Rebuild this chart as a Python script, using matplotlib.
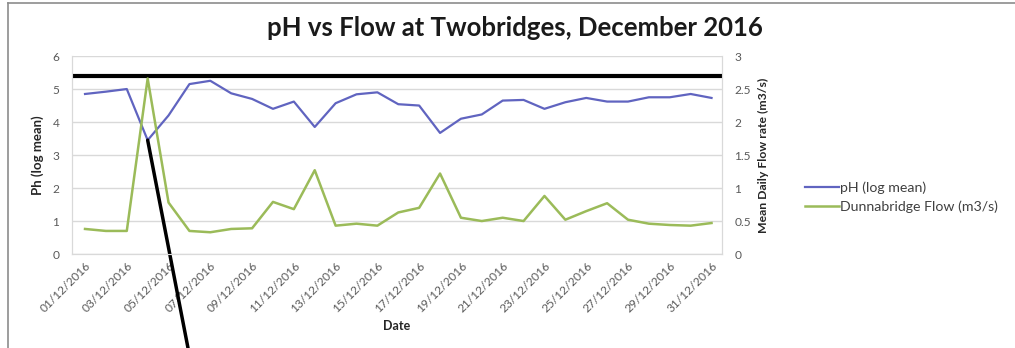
import numpy as np
import matplotlib
matplotlib.use("Agg")
import matplotlib.pyplot as plt
import matplotlib.dates as mdates
from matplotlib.lines import Line2D
import pandas as pd

plt.rcParams['font.family'] = ['Lato', 'DejaVu Sans']

# daily readings, Twobridges, December 2016
dates = pd.date_range('2016-12-01', '2016-12-31', freq='D')
ph_log_mean = [4.85, 4.92, 5.00, 3.45, 4.20, 5.15, 5.25, 4.87, 4.70, 4.40,
               4.62, 3.85, 4.57, 4.84, 4.90, 4.54, 4.50, 3.67, 4.10, 4.23,
               4.65, 4.67, 4.40, 4.60, 4.73, 4.62, 4.62, 4.75, 4.75, 4.85,
               4.73]
flow_m3s = [0.38, 0.35, 0.35, 2.66, 0.78, 0.35, 0.33, 0.38, 0.39, 0.79,
            0.68, 1.27, 0.43, 0.46, 0.43, 0.63, 0.70, 1.22, 0.55, 0.50,
            0.55, 0.50, 0.88, 0.52, 0.65, 0.77, 0.52, 0.46, 0.44, 0.43,
            0.47]
ph_threshold = 5.4

blue = '#6064c0'
green = '#9bbb59'
grey_txt = '#595959'

fig = plt.figure(figsize=(10.15, 3.48), dpi=100)
ax = fig.add_axes([0.0709, 0.270, 0.6404, 0.569])
ax2 = ax.twinx()

ax.plot(dates, ph_log_mean, color=blue, lw=1.6, label='pH (log mean)', zorder=3)
ax2.plot(dates, flow_m3s, color=green, lw=1.8, label='Dunnabridge Flow (m3/s)', zorder=3)

ax.set_ylim(0, 6)
ax2.set_ylim(0, 3)
ax.set_yticks(range(0, 7))
ax2.set_yticks([0, 0.5, 1, 1.5, 2, 2.5, 3])
ax2.set_yticklabels(['0', '0.5', '1', '1.5', '2', '2.5', '3'])
ax.set_xlim(dates[0] - pd.Timedelta(hours=15), dates[-1] + pd.Timedelta(hours=12))
ax.set_xticks(dates[::2])
ax.xaxis.set_major_formatter(mdates.DateFormatter('%d/%m/%Y'))
for lbl in ax.get_xticklabels():
    lbl.set_rotation(45)
    lbl.set_ha('right')
    lbl.set_rotation_mode('anchor')

ax.grid(axis='y', color='#d9d9d9', lw=1)
ax.set_axisbelow(True)
for a in (ax, ax2):
    a.spines['top'].set_visible(False)
    for s in ('left', 'right', 'bottom'):
        a.spines[s].set_color('#d9d9d9')
    a.tick_params(length=0, labelsize=8.6, labelcolor=grey_txt)
ax.tick_params(axis='y', pad=9)
ax2.tick_params(axis='y', pad=9)
ax.tick_params(axis='x', pad=4)

ax.set_ylabel('Ph (log mean)', fontsize=9.5, fontweight='bold', color='#262626', labelpad=6)
ax2.set_ylabel('Mean Daily Flow rate (m3/s)', fontsize=8.8, fontweight='bold', color='#262626', labelpad=5)
fig.text(397 / 1015, 1 - 326 / 348, 'Date', fontsize=9, fontweight='bold',
         color='#262626', ha='center', va='center')
fig.text(515 / 1015, 1 - 28 / 348, 'pH vs Flow at Twobridges, December 2016',
         fontsize=18.5, fontweight='bold', color='#1a1a1a', ha='center', va='center')

# hand-drawn markers: threshold line and pointer from the pH minimum
ax.axhline(ph_threshold, color='black', lw=3, zorder=5)
i_min = int(np.argmin(ph_log_mean))
ax.annotate('', xy=(dates[i_min], ph_log_mean[i_min]), xycoords='data',
            xytext=(188 / 1015, 0.0), textcoords='figure fraction',
            arrowprops=dict(arrowstyle='-', color='black', lw=2.5,
                            shrinkA=0, shrinkB=0),
            annotation_clip=False, zorder=6)

handles = [Line2D([], [], color=blue, lw=1.6), Line2D([], [], color=green, lw=1.8)]
fig.legend(handles, ['pH (log mean)', 'Dunnabridge Flow (m3/s)'],
           loc='center left', bbox_to_anchor=(0.793, 1 - 197 / 348), frameon=False,
           fontsize=10.2, labelcolor='#404040', handlelength=2.4, handletextpad=0.1,
           labelspacing=0.45, borderaxespad=0, borderpad=0)

# outer chart frame (left and top edges)
fig.add_artist(Line2D([8 / 1015, 8 / 1015], [0, 1 - 3 / 348], color='#8c8c8c', lw=1.2))
fig.add_artist(Line2D([8 / 1015, 1], [1 - 3 / 348, 1 - 3 / 348], color='#8c8c8c', lw=1.2))

fig.savefig('out.png', dpi=100)
